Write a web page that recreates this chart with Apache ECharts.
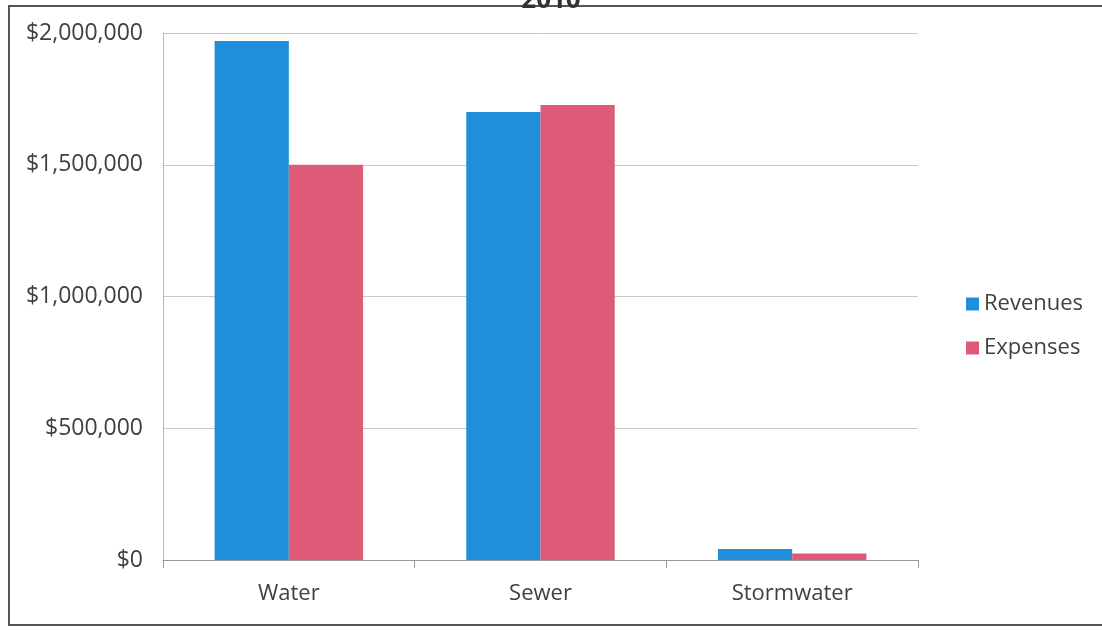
<!DOCTYPE html>
<html>
<head>
<meta charset="UTF-8">
<title>2010 Revenues vs Expenses</title>
<style>
    html, body { margin: 0; padding: 0; background: #fff; }
    #chartArea { width: 1102px; height: 631px; }
</style>
</head>
<body>
<div id="chartArea"></div>
<script src="https://cdn.jsdelivr.net/npm/echarts@6/dist/echarts.min.js"></script>
<script>
var categories = ['Water', 'Sewer', 'Stormwater'];
var revenues = [1970000, 1700000, 42000];
var expenses = [1500000, 1727000, 25000];
var yTicks = [0, 500000, 1000000, 1500000, 2000000];

var font = '"Open Sans", "Liberation Sans", sans-serif';

function money(v) {
    return '$' + v.toString().replace(/\B(?=(\d{3})+(?!\d))/g, ',');
}

var myChart = echarts.init(document.getElementById('chartArea'));
myChart.setOption({
    animation: false,
    title: {
        text: '2010',
        left: 'center',
        top: -17,
        textStyle: { fontFamily: font, fontSize: 26, fontWeight: 'bold', color: '#333' }
    },
    graphic: [
        {
            type: 'rect',
            shape: { x: 9, y: 6, width: 1120, height: 619 },
            style: { fill: 'none', stroke: '#555', lineWidth: 2 }
        }
    ],
    legend: {
        orient: 'vertical',
        left: 961,
        top: 288,
        itemWidth: 13,
        itemHeight: 13,
        itemGap: 22,
        icon: 'rect',
        data: ['Revenues', 'Expenses'],
        textStyle: { fontFamily: font, fontSize: 22, color: '#404040' }
    },
    grid: {
        left: 163,
        top: 33,
        width: 755,
        height: 527
    },
    xAxis: {
        type: 'category',
        data: categories,
        axisLine: { lineStyle: { color: '#999' } },
        axisTick: { show: true, length: 8, lineStyle: { color: '#999' } },
        axisLabel: { fontFamily: font, fontSize: 22, color: '#404040', margin: 23 }
    },
    yAxis: {
        type: 'value',
        min: yTicks[0],
        max: yTicks[yTicks.length - 1],
        interval: 500000,
        axisLine: { show: true, lineStyle: { color: '#aaa', type: 'dotted' } },
        axisTick: { show: false },
        splitLine: { lineStyle: { color: '#c8c8c8' } },
        axisLabel: {
            fontFamily: font, fontSize: 23, color: '#404040', margin: 20,
            formatter: money
        }
    },
    series: [
        {
            name: 'Revenues',
            type: 'bar',
            data: revenues,
            barGap: '0%',
            barCategoryGap: '41%',
            itemStyle: { color: '#1f8fdc' }
        },
        {
            name: 'Expenses',
            type: 'bar',
            data: expenses,
            itemStyle: { color: '#de5b77' }
        }
    ]
});
</script>
</body>
</html>
